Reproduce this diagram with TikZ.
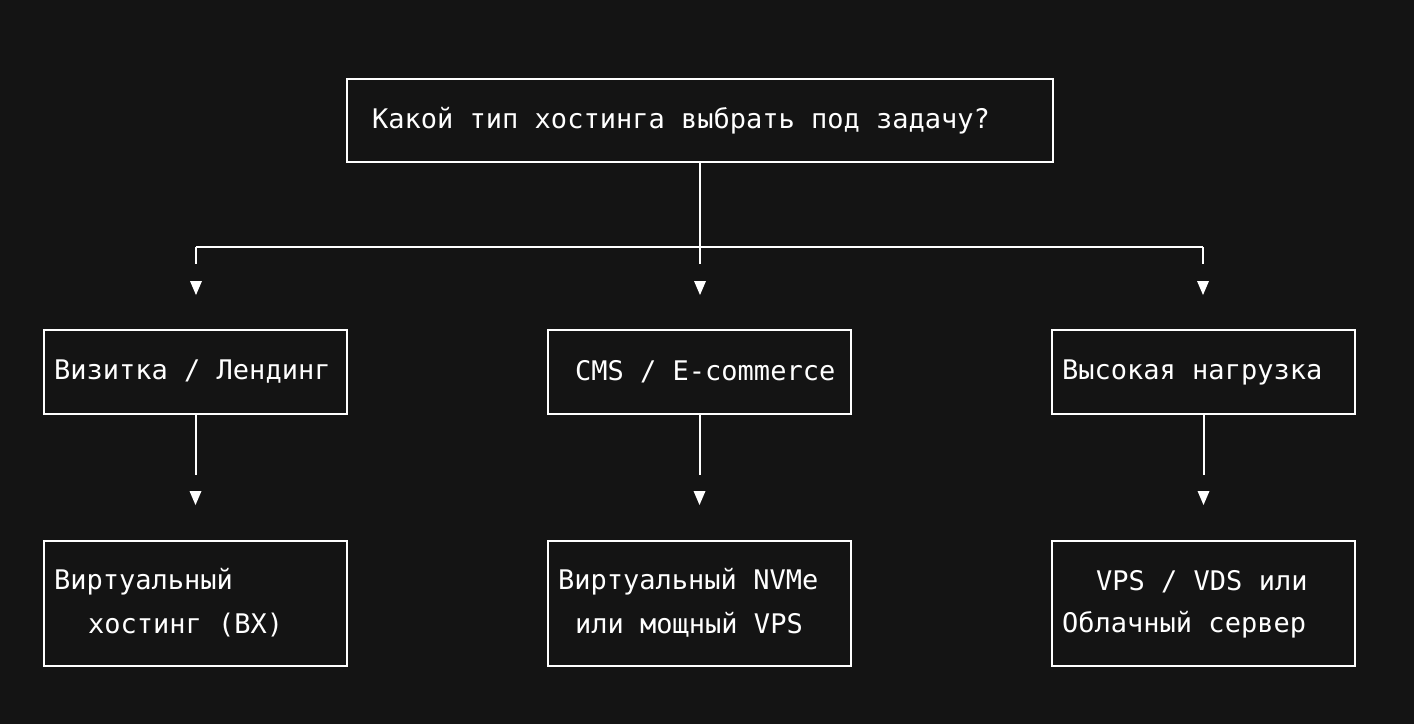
\documentclass[tikz,border=0pt]{standalone}
\usepackage{fontspec}
\setmainfont{DejaVu Sans Mono}
\usetikzlibrary{calc}
\begin{document}
\begin{tikzpicture}[x=1pt,y=-1pt,
  box/.style={draw=white,line width=2pt,rectangle,inner sep=0pt},
  txt/.style={text=white,anchor=west,inner sep=0pt,font=\fontsize{27}{27}\selectfont},
  ln/.style={draw=white,line width=2pt},
  tip/.style={fill=white}]
\fill[black!92] (0,0) rectangle (1414,724);
\useasboundingbox (0,0) rectangle (1414,724);
% boxes
\node[box,minimum width=706,minimum height=83] (top) at (700,120.5) {};
\node[box,minimum width=303,minimum height=84] (m1) at (195.5,372) {};
\node[box,minimum width=303,minimum height=84] (m2) at (699.5,372) {};
\node[box,minimum width=303,minimum height=84] (m3) at (1203.5,372) {};
\node[box,minimum width=303,minimum height=125] (b1) at (195.5,603.5) {};
\node[box,minimum width=303,minimum height=125] (b2) at (699.5,603.5) {};
\node[box,minimum width=303,minimum height=125] (b3) at (1203.5,603.5) {};
% texts
\node[txt] (t0) at (372,121) {Какой тип хостинга выбрать под задачу?};
\node[txt] (t1) at (54,372) {Визитка / Лендинг};
\node[txt] (t2) at (575,372) {CMS / E-commerce};
\node[txt] (t3) at (1062,372) {Высокая нагрузка};
\node[txt] (t4) at (54,582) {Виртуальный};
\node[txt] (t5) at (88,625) {хостинг (ВХ)};
\node[txt] (t6) at (558,582) {Виртуальный NVMe};
\node[txt] (t7) at (575,625) {или мощный VPS};
\node[txt] (t8) at (1096,582) {VPS / VDS или};
\node[txt] (t9) at (1062,625) {Облачный сервер};
% connectors
\coordinate (j) at (700,247);
\coordinate (jl) at (196,247);
\coordinate (jr) at (1203,247);
\draw[ln] (top.south) -- (j);
\draw[ln] (jl) -- (jr);
\foreach \x/\n in {196/m1,700/m2,1203/m3}{
  \draw[ln] (\x,247) -- (\x,264);
  \fill[tip] (\x-6,281) -- (\x+6,281) -- (\x,295) -- cycle;
}
\foreach \a/\b in {m1/b1,m2/b2,m3/b3}{
  \draw[ln] (\a.south) -- ++(0,60);
  \path (\a.south) ++(0,76) coordinate (p\a);
  \fill[tip] ($(p\a)+(-6,0)$) -- ($(p\a)+(6,0)$) -- ($(p\a)+(0,14)$) -- cycle;
}
\end{tikzpicture}
\end{document}
